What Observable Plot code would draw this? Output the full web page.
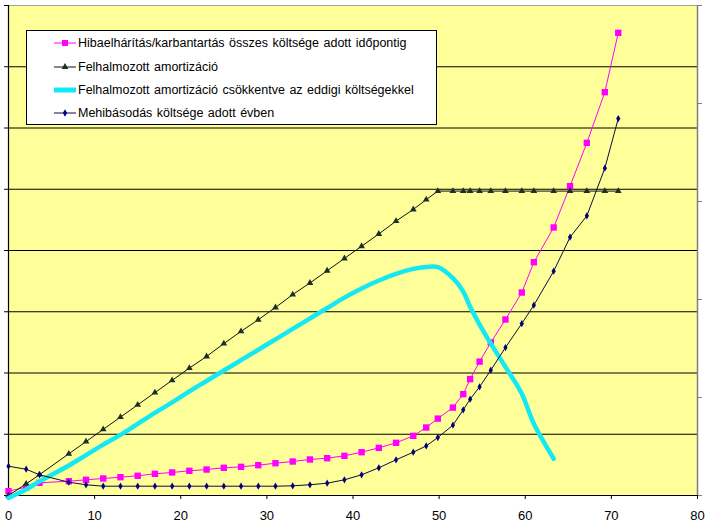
<!DOCTYPE html>
<html><head><meta charset="utf-8">
<script src="https://cdn.jsdelivr.net/npm/d3@7"></script>
<script src="https://cdn.jsdelivr.net/npm/@observablehq/plot@0.6"></script>
<style>
body{margin:0;background:#fff;font-family:"Liberation Sans",Arial,sans-serif;}
#wrap{position:relative;width:706px;height:530px;overflow:hidden;}
#legend{position:absolute;left:26px;top:30px;width:409px;height:93px;border:1px solid #000;background:#fff;}
.row{position:absolute;left:0;height:20px;display:flex;align-items:center;font-size:12.5px;color:#000;white-space:nowrap;word-spacing:1px;}
.row svg{margin-left:27px;margin-right:2px;}
</style></head>
<body><div id="wrap"><div id="chart"></div><div id="legend"></div></div>
<script>
// Shared x positions (years)
const years = [0, 2.05, 3.6, 7, 9, 11, 13, 15, 17, 19, 21, 23, 25, 27, 29, 31, 33, 35, 37, 39, 41, 43, 45, 47, 48.5, 49.85, 51.6, 52.8, 53.6, 54.7, 56, 57.7, 59.6, 61, 63.3, 65.2, 67.15, 69.24, 70.8];

// Hibaelhárítás/karbantartás összes költsége adott időpontig
const totalCost = [0.07, 0.136, 0.207, 0.233, 0.256, 0.278, 0.299, 0.322, 0.354, 0.376, 0.403, 0.424, 0.452, 0.468, 0.495, 0.527, 0.555, 0.588, 0.609, 0.648, 0.707, 0.778, 0.86, 0.974, 1.11, 1.255, 1.435, 1.655, 1.9, 2.186, 2.498, 2.873, 3.314, 3.809, 4.376, 5.05, 5.758, 6.585, 7.554];

// Felhalmozott amortizáció
const amort = [0, 0.19, 0.34, 0.68, 0.88, 1.08, 1.28, 1.48, 1.68, 1.88, 2.08, 2.27, 2.48, 2.68, 2.87, 3.07, 3.28, 3.47, 3.67, 3.87, 4.07, 4.27, 4.48, 4.67, 4.83, 4.97, 4.97, 4.97, 4.97, 4.97, 4.97, 4.97, 4.97, 4.97, 4.97, 4.97, 4.97, 4.97, 4.97];

// Felhalmozott amortizáció csökkentve az eddigi költségekkel (first 35 years entries)
const amortNet = [-0.04, 0.1, 0.23, 0.49, 0.66, 0.83, 0.99, 1.17, 1.35, 1.52, 1.7, 1.87, 2.04, 2.21, 2.38, 2.55, 2.72, 2.89, 3.06, 3.23, 3.38, 3.51, 3.62, 3.7, 3.73, 3.73, 3.55, 3.33, 3.08, 2.79, 2.48, 2.1, 1.66, 1.17, 0.6];

// Mehibásodás költsége adott évben
const yearCost = [0.478, 0.429, 0.338, 0.217, 0.175, 0.152, 0.152, 0.152, 0.152, 0.152, 0.152, 0.152, 0.152, 0.152, 0.152, 0.152, 0.158, 0.175, 0.201, 0.256, 0.338, 0.452, 0.583, 0.707, 0.81, 0.947, 1.148, 1.399, 1.572, 1.775, 2.046, 2.416, 2.808, 3.107, 3.662, 4.217, 4.566, 5.344, 6.155];

const seriesNames = [
  "Hibaelhárítás/karbantartás összes költsége adott időpontig",
  "Felhalmozott amortizáció",
  "Felhalmozott amortizáció csökkentve az eddigi költségekkel",
  "Mehibásodás költsége adott évben"
];

const xTicks = [0, 10, 20, 30, 40, 50, 60, 70, 80];
const leftTicks = [0, 1, 2, 3, 4, 5, 6, 7, 8];
const gridLevels = [1, 2, 3, 4, 5, 6, 7];
const rightTicks = [0, 1, 2, 3, 4, 5];
const leftMax = 8, rightMax = 5;

const colors = {cost: "#ff00ff", amort: "#1c2f2a", net: "#14e8f2", year: "#000080"};

const rowsCost = years.map((x, i) => ({x, y: totalCost[i]}));
const rowsAmort = years.map((x, i) => ({x, y: amort[i]}));
const rowsNet = amortNet.map((y, i) => ({x: years[i], y}));
const rowsYear = years.map((x, i) => ({x, y: yearCost[i]}));

const font = "Liberation Sans, Arial, sans-serif";

const chart = Plot.plot({
  width: 706,
  height: 530,
  marginLeft: 8,
  marginRight: 9,
  marginTop: 5,
  marginBottom: 35,
  style: {background: "white", fontFamily: font, fontSize: "13px", color: "black"},
  x: {domain: [0, 80]},
  y: {domain: [0, leftMax]},
  marks: [
    Plot.frame({fill: "#ffff99", stroke: null}),
    Plot.ruleY(gridLevels, {stroke: "black", strokeWidth: 1}),
    Plot.ruleY([leftMax], {stroke: "#a0a0a0", strokeWidth: 1}),
    Plot.ruleX([80], {stroke: "#808080", strokeWidth: 1.5}),
    Plot.axisY({anchor: "right", ticks: rightTicks.map(v => v * leftMax / rightMax), tickSize: 4, tickFormat: () => "", stroke: "#808080", label: null}),
    Plot.axisY({anchor: "left", ticks: leftTicks, tickSize: 4, tickFormat: () => "", stroke: "black", label: null}),
    Plot.axisX({ticks: xTicks, tickSize: 4, tickPadding: 11, label: null, stroke: "black", fontSize: 13, fill: "black"}),
    Plot.ruleX([0], {stroke: "black", strokeWidth: 1.2}),
    Plot.ruleY([0], {stroke: "black", strokeWidth: 1.2}),
    // series 1: magenta squares
    Plot.line(rowsCost, {x: "x", y: "y", stroke: colors.cost, strokeWidth: 1}),
    Plot.dot(rowsCost, {x: "x", y: "y", symbol: "square", r: 3.6, fill: colors.cost, stroke: null}),
    // series 2: triangles
    Plot.line(rowsAmort, {x: "x", y: "y", stroke: "#111", strokeWidth: 1}),
    Plot.dot(rowsAmort, {x: "x", y: "y", symbol: "triangle", r: 2.5, fill: colors.amort, stroke: null}),
    // series 3: thick cyan smoothed line
    Plot.line(rowsNet, {x: "x", y: "y", stroke: colors.net, strokeWidth: 4.5, curve: "catmull-rom"}),
    // series 4: navy diamonds
    Plot.line(rowsYear, {x: "x", y: "y", stroke: "#0a0a40", strokeWidth: 1}),
    Plot.dot(rowsYear, {x: "x", y: "y", symbol: "diamond", r: 2.2, fill: colors.year, stroke: null})
  ]
});
document.getElementById("chart").appendChild(chart);

// Legend (inside plot area, Excel style)
const legend = d3.select("#legend");
const swatchStyles = [
  {stroke: colors.cost, width: 1, symbol: d3.symbolSquare, size: 36, fill: colors.cost},
  {stroke: "#111", width: 1, symbol: d3.symbolTriangle, size: 20, fill: colors.amort},
  {stroke: colors.net, width: 5, symbol: null},
  {stroke: "#0a0a40", width: 1, symbol: d3.symbolDiamond, size: 16, fill: colors.year}
];
const rowCenters = [12.3, 35.7, 59, 82.3];
seriesNames.forEach((name, i) => {
  const st = swatchStyles[i];
  const row = legend.append("div").attr("class", "row").style("top", (rowCenters[i] - 10) + "px");
  const svg = row.append("svg").attr("width", 22).attr("height", 12);
  svg.append("line").attr("x1", 0).attr("x2", 22).attr("y1", 6).attr("y2", 6)
    .attr("stroke", st.stroke).attr("stroke-width", st.width);
  if (st.symbol) {
    svg.append("path").attr("transform", "translate(11,6)")
      .attr("d", d3.symbol(st.symbol, st.size)()).attr("fill", st.fill);
  }
  row.append("span").text(name);
});
</script>
</body></html>
